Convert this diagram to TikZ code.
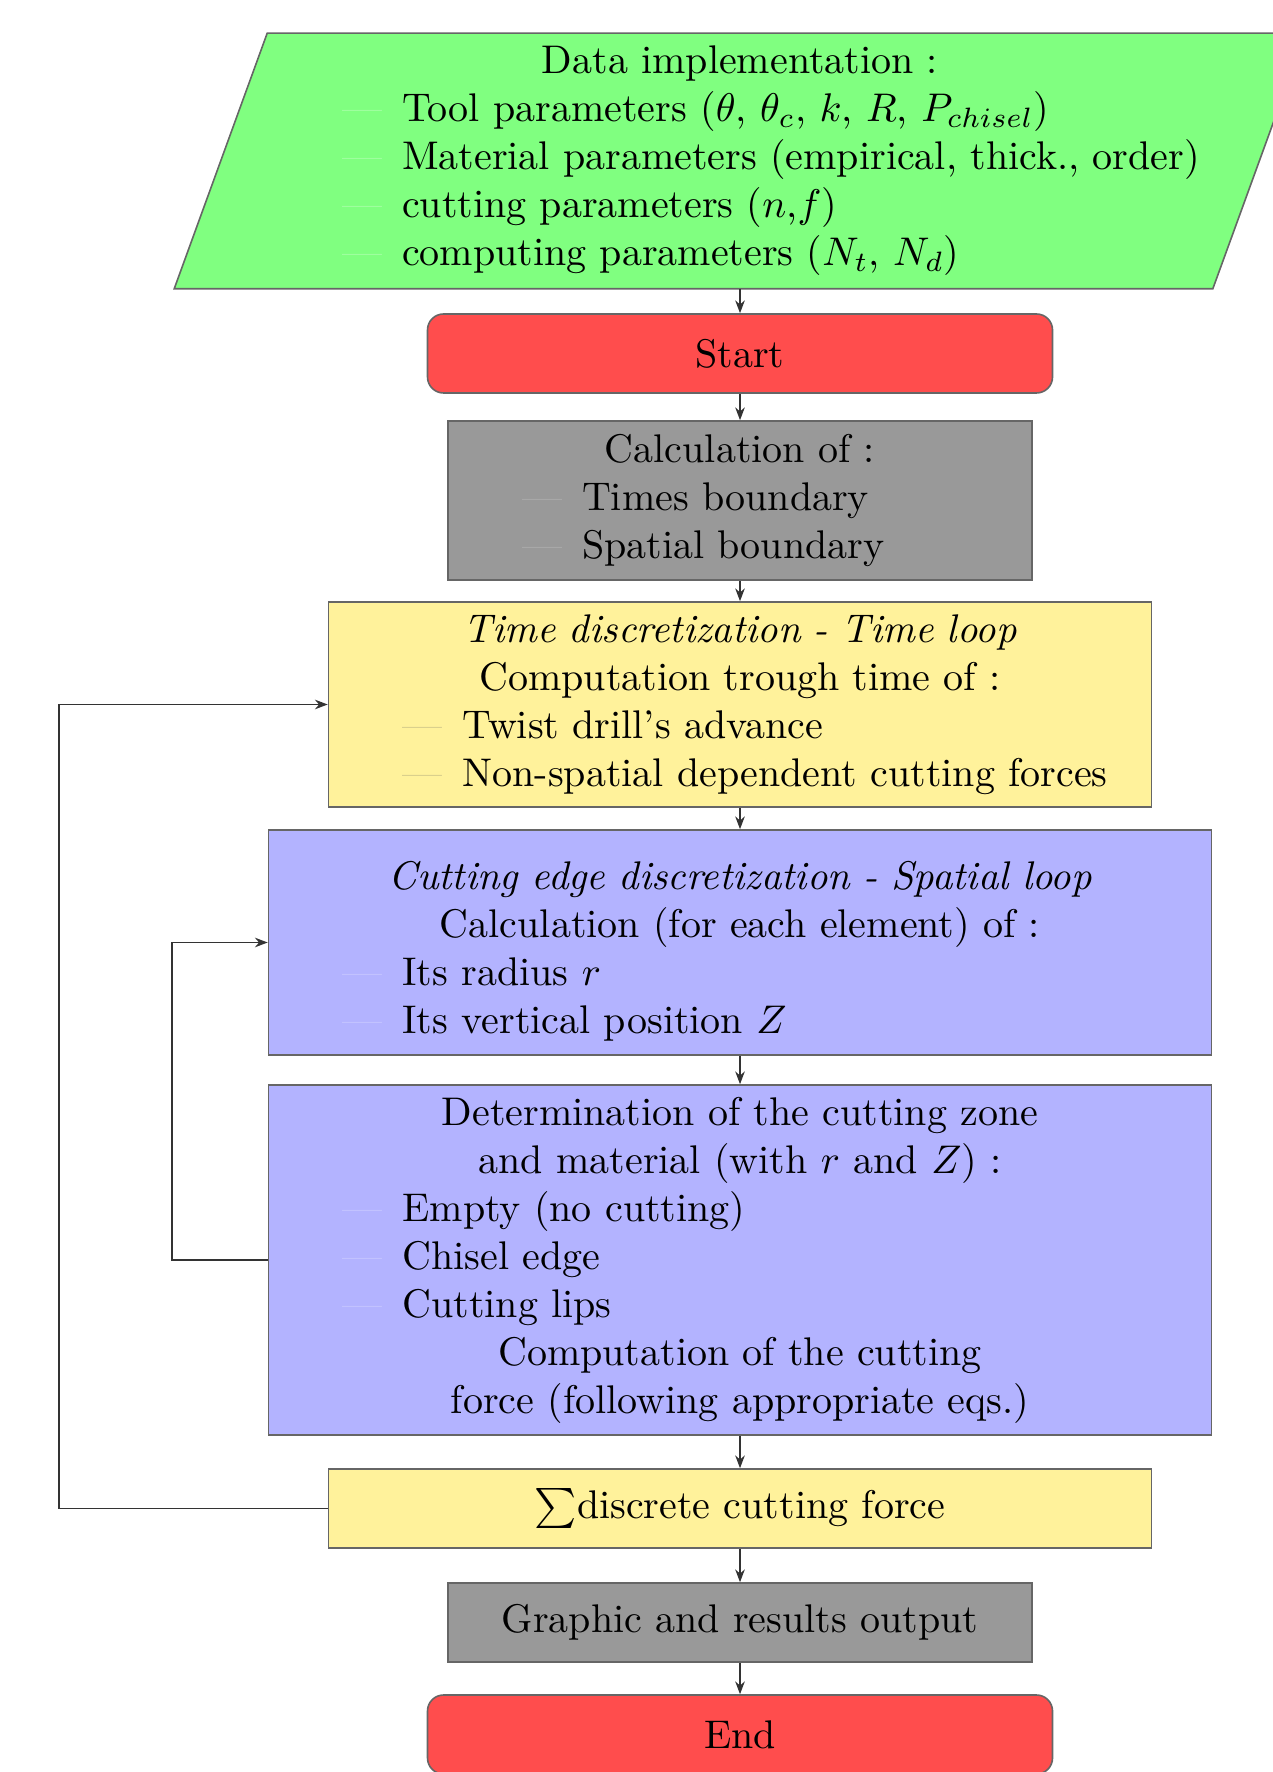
\documentclass[tikz,border=0pt]{standalone}
\usetikzlibrary{arrows.meta,backgrounds,calc}
\definecolor{cgreen}{RGB}{128,255,128}
\definecolor{cred}{RGB}{255,77,77}
\definecolor{cgray}{RGB}{153,153,153}
\definecolor{cyellow}{RGB}{255,242,155}
\definecolor{cblue}{RGB}{179,179,255}
\newcommand{\itemdash}[1]{\makebox[15pt][l]{\textcolor{#1}{---}}}
\newcommand{\lineL}[2]{\makebox[\hsize][l]{\itemdash{#1}#2}}
\begin{document}
\begin{tikzpicture}[x=0.25pt,y=-0.25pt,
  box/.style={draw=black!60, line width=0.4pt, inner sep=0pt, align=center},
  arr/.style={draw=black!80, line width=0.4pt, -{Stealth[length=3.2pt,width=2.4pt]}}]
\useasboundingbox (0,0) rectangle (1272,1772);

\node[box, draw=none, minimum width=259.25pt, minimum height=63.5pt, text width=199pt] (data) at (740,161)
  {Data implementation :\\
   \lineL{cgreen!70!white}{Tool parameters ($\theta$, $\theta_c$, $k$, $R$, $P_{chisel}$)}\\
   \lineL{cgreen!70!white}{Material parameters (empirical, thick., order)}\\
   \lineL{cgreen!70!white}{cutting parameters ($n$,$f$)}\\
   \lineL{cgreen!70!white}{computing parameters ($N_t$, $N_d$)}};
\begin{scope}[on background layer]
  \filldraw[fill=cgreen, draw=black!60, line width=0.4pt]
    ($(data.south west)+(-11.625pt,0)$) -- ($(data.south east)+(-11.625pt,0)$) --
    ($(data.north east)+(11.625pt,0)$) -- ($(data.north west)+(11.625pt,0)$) -- cycle;
\end{scope}

\node[box, fill=cred, rounded corners=4pt, minimum width=156.25pt, minimum height=19.75pt] (start) at (740,353.5) {Start};

\node[box, fill=cgray, minimum width=146pt, minimum height=39.75pt, text width=109pt] (calc) at (740,500.5)
  {Calculation of :\\
   \lineL{cgray!80!white}{Times boundary}\\
   \lineL{cgray!80!white}{Spatial boundary}};

\node[box, fill=cyellow, minimum width=205.75pt, minimum height=51.25pt, text width=168.75pt] (time) at (740,704.5)
  {\textit{Time discretization - Time loop}\\
   Computation trough time of :\\
   \lineL{cyellow!80!black!90}{Twist drill's advance}\\
   \lineL{cyellow!80!black!90}{Non-spatial dependent cutting forces}};

\node[box, fill=cblue, minimum width=235.75pt, minimum height=56.25pt, text width=198.75pt] (spatial) at (740,942.5)
  {\rule{0pt}{11.5pt}\textit{Cutting edge discretization - Spatial loop}\\
   Calculation (for each element) of :\\
   \lineL{cblue!75!white}{Its radius $r$}\\
   \lineL{cblue!75!white}{Its vertical position $Z$}};

\node[box, fill=cblue, minimum width=235.75pt, minimum height=87.5pt, text width=198.75pt] (det) at (740,1260)
  {Determination of the cutting zone\\
   and material (with $r$ and $Z$) :\\
   \lineL{cblue!75!white}{Empty (no cutting)}\\
   \lineL{cblue!75!white}{Chisel edge}\\
   \lineL{cblue!75!white}{Cutting lips}\\
   Computation of the cutting\\
   force (following appropriate eqs.)};

\node[box, fill=cyellow, minimum width=205.75pt, minimum height=19.75pt] (sum) at (740,1508.5) {$\sum$discrete cutting force};

\node[box, fill=cgray, minimum width=146pt, minimum height=19.75pt] (graphic) at (740,1622.5) {Graphic and results output};

\node[box, fill=cred, rounded corners=4pt, minimum width=156.25pt, minimum height=19.75pt] (end) at (740,1734.5) {End};

\draw[arr] (data.south) -- (start.north);
\draw[arr] (start.south) -- (calc.north);
\draw[arr] (calc.south) -- (time.north);
\draw[arr] (time.south) -- (spatial.north);
\draw[arr] (spatial.south) -- (det.north);
\draw[arr] (det.south) -- (sum.north);
\draw[arr] (sum.south) -- (graphic.north);
\draw[arr] (graphic.south) -- (end.north);

\coordinate (outer) at (59,0);
\coordinate (inner) at (172,0);
\draw[arr] (sum.west) -- (sum.west -| outer) |- (time.west);
\draw[arr] (det.west) -- (det.west -| inner) |- (spatial.west);
\end{tikzpicture}
\end{document}
